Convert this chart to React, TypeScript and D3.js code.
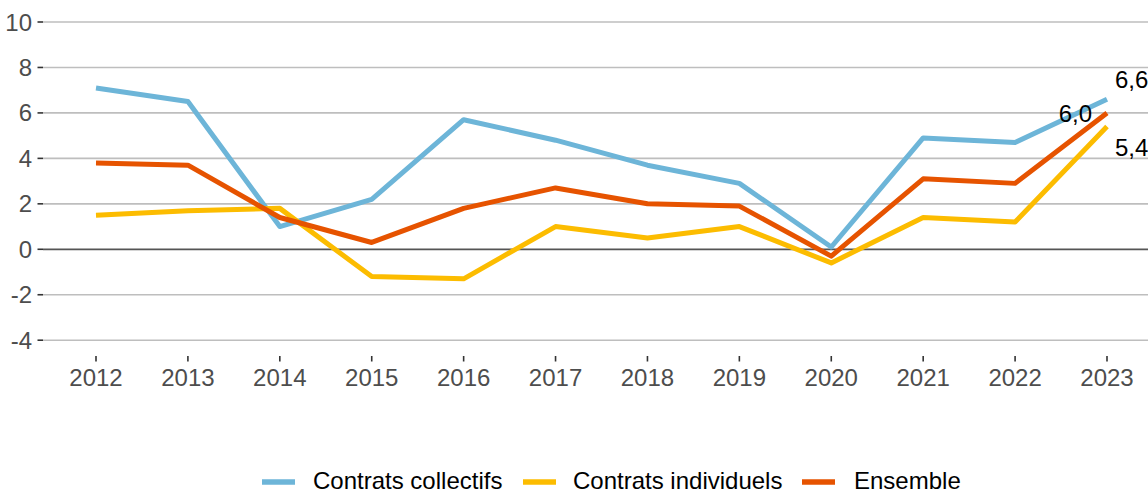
import React from "react";
import * as d3 from "d3";

const years = ["2012","2013","2014","2015","2016","2017","2018","2019","2020","2021","2022","2023"];
const collectifs = [7.1, 6.5, 1.0, 2.2, 5.7, 4.8, 3.7, 2.9, 0.1, 4.9, 4.7, 6.6];
const individuels = [1.5, 1.7, 1.8, -1.2, -1.3, 1.0, 0.5, 1.0, -0.6, 1.4, 1.2, 5.4];
const ensemble = [3.8, 3.7, 1.4, 0.3, 1.8, 2.7, 2.0, 1.9, -0.3, 3.1, 2.9, 6.0];
const yTicks = [-4, -2, 0, 2, 4, 6, 8, 10];
const seriesNames = ["Contrats collectifs", "Contrats individuels", "Ensemble"];
const colors = ["#6db5d8", "#fcbc00", "#e65300"];

const W = 1148;
const H = 493;
const FONT = "'Liberation Sans', Arial, sans-serif";

export default function App() {
  const x = d3.scalePoint<string>().domain(years).range([96, 1107]).padding(0);
  const y = d3.scaleLinear().domain([-4, 10]).range([340.2, 22]);
  const allSeries = [collectifs, individuels, ensemble];
  const line = d3
    .line<number>()
    .x((_, i) => x(years[i]) as number)
    .y((d) => y(d));

  const last = years.length - 1;
  const xLast = x(years[last]) as number;
  // label placements relative to the last point
  const labelPos = [
    { dx: 8, dy: -11, anchor: "start" },
    { dx: 8, dy: 29, anchor: "start" },
    { dx: -15, dy: 9, anchor: "end" },
  ];
  const fmt = (v: number) => v.toFixed(1).replace(".", ",");

  const legendKeyX = [262, 523, 802];
  const legendTextX = [313, 573, 854];
  const fs = 24;

  return (
    <svg width={W} height={H} style={{ position: "absolute", left: 0, top: 0 }} fontFamily={FONT}>
      <rect x={0} y={0} width={W} height={H} fill="#ffffff" />
      {yTicks.map((t) => (
        <g key={t}>
          <line
            x1={43}
            x2={W}
            y1={y(t)}
            y2={y(t)}
            stroke={t === 0 ? "#555555" : "#bebebe"}
            strokeWidth={t === 0 ? 1.8 : 1.6}
          />
          <line x1={37.5} x2={43} y1={y(t)} y2={y(t)} stroke="#333333" strokeWidth={1.6} />
          <text x={32} y={y(t)} textAnchor="end" dominantBaseline="central" fontSize={fs} fill="#4d4d4d">
            {t}
          </text>
        </g>
      ))}
      {years.map((yr) => (
        <g key={yr}>
          <line x1={x(yr)} x2={x(yr)} y1={356} y2={361.5} stroke="#333333" strokeWidth={1.6} />
          <text x={x(yr)} y={386} textAnchor="middle" fontSize={fs} fill="#4d4d4d">
            {yr}
          </text>
        </g>
      ))}
      {allSeries.map((s, i) => (
        <path
          key={i}
          d={line(s) || ""}
          fill="none"
          stroke={colors[i]}
          strokeWidth={5}
          strokeLinejoin="round"
          strokeLinecap="butt"
        />
      ))}
      {allSeries.map((s, i) => (
        <text
          key={"l" + i}
          x={xLast + labelPos[i].dx}
          y={y(s[last]) + labelPos[i].dy}
          textAnchor={labelPos[i].anchor as any}
          fontSize={fs}
          fill="#000000"
        >
          {fmt(s[last])}
        </text>
      ))}
      {seriesNames.map((n, i) => (
        <g key={n}>
          <line x1={legendKeyX[i]} x2={legendKeyX[i] + 33} y1={482} y2={482} stroke={colors[i]} strokeWidth={5.5} />
          <text x={legendTextX[i]} y={489} fontSize={fs} fill="#000000">
            {n}
          </text>
        </g>
      ))}
    </svg>
  );
}
